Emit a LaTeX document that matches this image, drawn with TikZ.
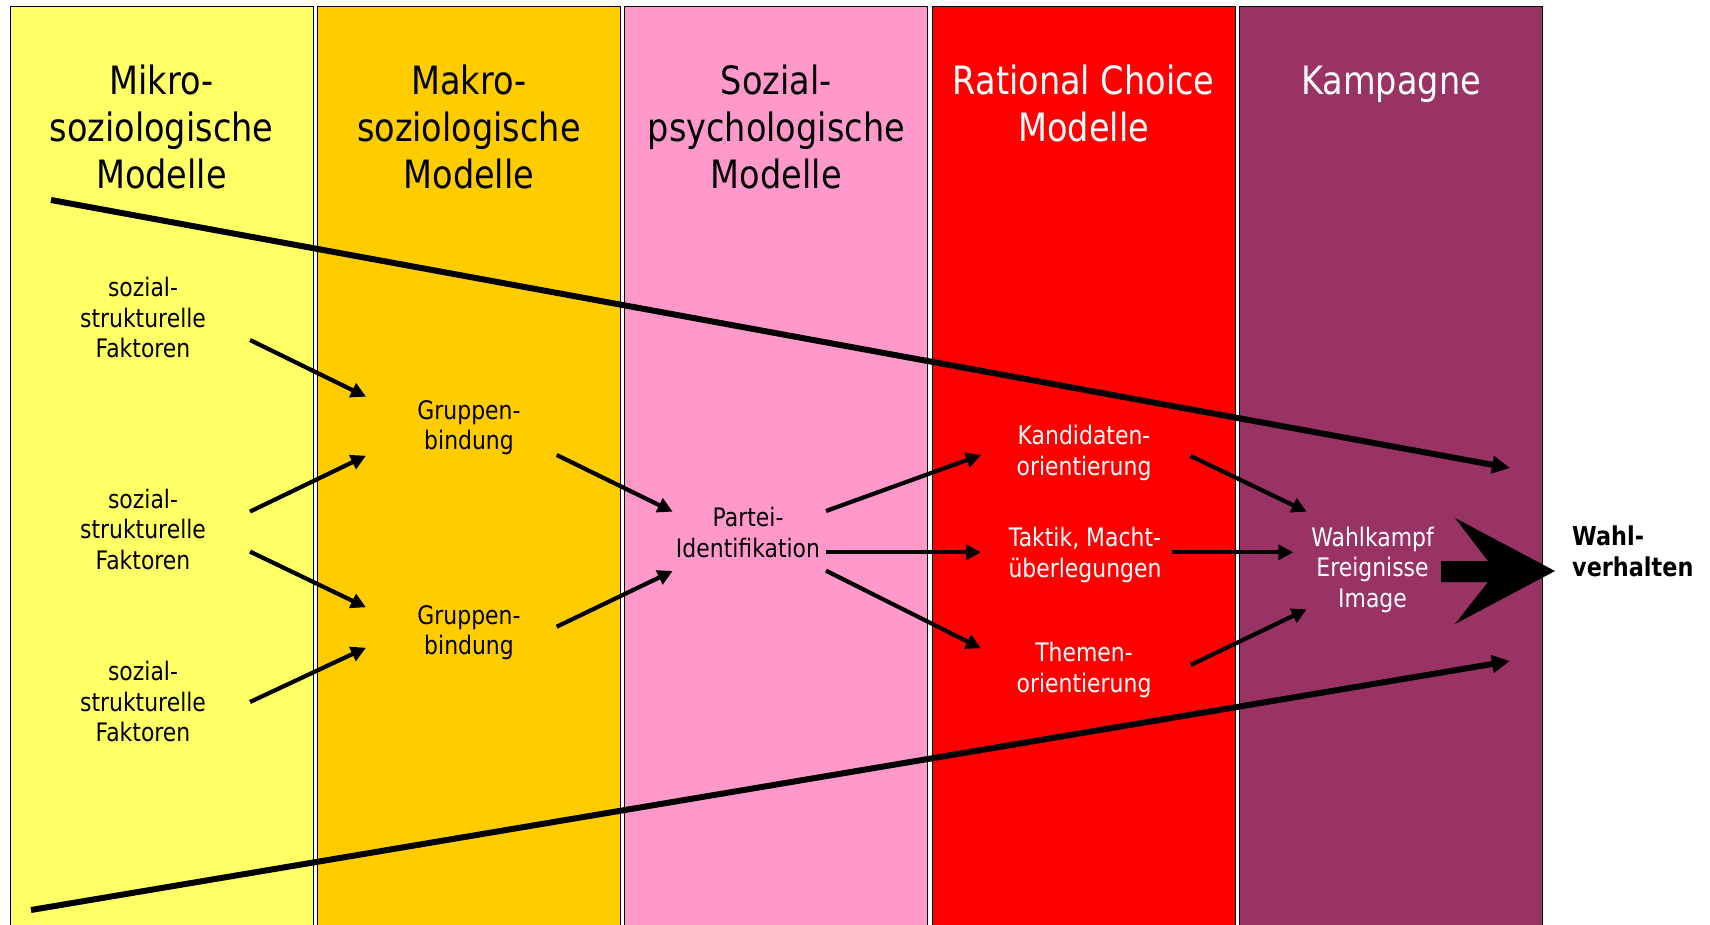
\documentclass[tikz,border=0pt]{standalone}
\usepackage{fontspec}
\setmainfont{DejaVu Sans}[FakeStretch=0.86]
\usetikzlibrary{arrows.meta}
\definecolor{colA}{HTML}{FFFF66}
\definecolor{colB}{HTML}{FFCC00}
\definecolor{colC}{HTML}{FF99CC}
\definecolor{colD}{HTML}{FF0000}
\definecolor{colE}{HTML}{993366}
\newcommand{\mlc}[1]{\begin{tabular}[t]{@{}c@{}}#1\end{tabular}}
\newcommand{\mll}[1]{\begin{tabular}[t]{@{}l@{}}#1\end{tabular}}
\tikzset{
  colbox/.style={draw=black, line width=1pt},
  ttl/.style={font=\fontsize{39}{46.7}\selectfont, inner sep=0pt, anchor=base},
  lbl/.style={font=\fontsize{25.5}{30.7}\selectfont, inner sep=0pt, anchor=base},
  boldlbl/.style={font=\fontsize{26}{31.7}\selectfont\bfseries, inner sep=0pt, anchor=base west},
  arr/.style={line width=4.2pt, -{Triangle[length=15pt,width=15pt]}},
  bigarr/.style={line width=6pt, -{Triangle[length=18pt,width=17pt]}},
}
\begin{document}
\begin{tikzpicture}[x=1pt,y=-1pt]
\useasboundingbox (0,0) rectangle (1710,925);
\fill[white] (0,0) rectangle (1710,925);
% columns
\filldraw[colbox, fill=colA] (10,7) rectangle (313,940);
\filldraw[colbox, fill=colB] (317.4,7) rectangle (620.4,940);
\filldraw[colbox, fill=colC] (624.8,7) rectangle (927.8,940);
\filldraw[colbox, fill=colD] (932.2,7) rectangle (1235.2,940);
\filldraw[colbox, fill=colE] (1239.6,7) rectangle (1542.6,940);
% titles
\node[ttl] (t1) at (161.5,95) {\mlc{Mikro-\\soziologische\\Modelle}};
\node[ttl] (t2) at (468.9,95) {\mlc{Makro-\\soziologische\\Modelle}};
\node[ttl] (t3) at (776.3,95) {\mlc{Sozial-\\psychologische\\Modelle}};
\node[ttl, text=white] (t4) at (1083.7,95) {\mlc{Rational Choice\\Modelle}};
\node[ttl, text=white] (t5) at (1391.1,95) {\mlc{Kampagne}};
% labels
\node[lbl] (s1) at (143,296.5) {\mlc{sozial-\\strukturelle\\Faktoren}};
\node[lbl] (s2) at (143,508) {\mlc{sozial-\\strukturelle\\Faktoren}};
\node[lbl] (s3) at (143,680.5) {\mlc{sozial-\\strukturelle\\Faktoren}};
\node[lbl] (g1) at (469,419) {\mlc{Gruppen-\\bindung}};
\node[lbl] (g2) at (469,624) {\mlc{Gruppen-\\bindung}};
\node[lbl] (p) at (748,526.5) {\mlc{Partei-\\Identifikation}};
\node[lbl, text=white] (k) at (1084,444.5) {\mlc{Kandidaten-\\orientierung}};
\node[lbl, text=white] (t) at (1085,546.5) {\mlc{Taktik, Macht-\\überlegungen}};
\node[lbl, text=white] (th) at (1084,661.5) {\mlc{Themen-\\orientierung}};
\node[lbl, text=white] (w) at (1372.5,546) {\mlc{Wahlkampf\\Ereignisse\\Image}};
\node[boldlbl] (wv) at (1572,545) {\mll{Wahl-\\verhalten}};
% big lines
\coordinate (topstart) at (51,200);
\coordinate (topend) at (1510,468);
\coordinate (botstart) at (31,910);
\coordinate (botend) at (1510,661);
\draw[bigarr] (topstart) -- (topend);
\draw[bigarr] (botstart) -- (botend);
% arrows
\draw[arr] ([shift={(107,43.5)}]s1.base) -- ([shift={(-103,-22.3)}]g1.base);
\draw[arr] ([shift={(107,3.6)}]s2.base) -- ([shift={(-103,36.7)}]g1.base);
\draw[arr] ([shift={(107,43.6)}]s2.base) -- ([shift={(-103,-16.7)}]g2.base);
\draw[arr] ([shift={(107,21.5)}]s3.base) -- ([shift={(-103,23.7)}]g2.base);
\draw[arr] ([shift={(87.7,36)}]g1.base) -- ([shift={(-75.3,-14.8)}]p.base);
\draw[arr] ([shift={(87.7,2.7)}]g2.base) -- ([shift={(-75.3,44.5)}]p.base);
\draw[arr] ([shift={(78,-15.5)}]p.base) -- ([shift={(-103,10.5)}]k.base);
\draw[arr] ([shift={(78,25.8)}]p.base) -- ([shift={(-104,5.8)}]t.base);
\draw[arr] ([shift={(78,44.2)}]p.base) -- ([shift={(-103,-13.2)}]th.base);
\draw[arr] ([shift={(106.7,11.5)}]k.base) -- ([shift={(-65.8,-34.3)}]w.base);
\draw[arr] ([shift={(86.7,5.8)}]t.base) -- ([shift={(-79.2,6.3)}]w.base);
\draw[arr] ([shift={(106.7,3.5)}]th.base) -- ([shift={(-65.8,63.3)}]w.base);
% big arrow to Wahlverhalten
\fill[black] (1441,561) -- (1488,561) -- (1455,518) -- (1555,571) -- (1455,624) -- (1488,582) -- (1441,582) -- cycle;
\end{tikzpicture}
\end{document}
